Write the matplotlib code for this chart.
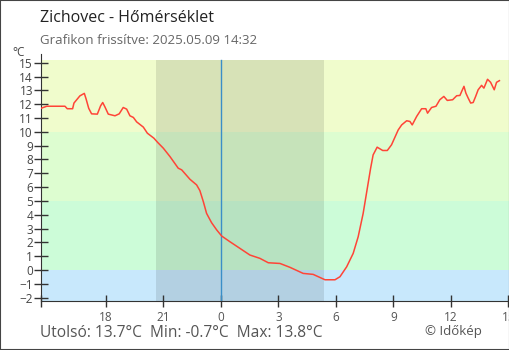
import matplotlib
matplotlib.use("Agg")
import matplotlib.pyplot as plt
from matplotlib.patches import Rectangle

plt.rcParams['font.family'] = ['Open Sans', 'DejaVu Sans']

# hours relative to midnight, temperature in °C
hours = [-9.39, -9.09, -8.14, -8.02, -7.74, -7.67, -7.36, -7.13, -7.04, -6.90,
         -6.75, -6.45, -6.28, -6.17, -6.05, -5.88, -5.53, -5.31, -5.10, -4.92,
         -4.75, -4.57, -4.40, -4.05, -3.84, -3.50, -3.30, -3.01, -2.66, -2.23,
         -2.05, -1.62, -1.27, -1.10, -0.92, -0.75, -0.49, -0.22, 0.04, 0.47,
         0.99, 1.51, 2.03, 2.47, 3.08, 3.60, 4.29, 4.81, 5.16, 5.43,
         5.95, 6.21, 6.56, 6.90, 7.16, 7.42, 7.68, 7.81, 7.94, 8.15,
         8.44, 8.68, 8.90, 9.25, 9.43, 9.69, 9.86, 9.98, 10.21, 10.47,
         10.69, 10.78, 10.99, 11.22, 11.42, 11.63, 11.81, 12.09, 12.30, 12.47,
         12.56, 12.68, 12.78, 12.90, 13.03, 13.16, 13.29, 13.42, 13.60, 13.72,
         13.91, 14.07, 14.26, 14.38, 14.53]
temps = [11.7, 11.85, 11.85, 11.67, 11.67, 12.08, 12.6, 12.78, 12.39, 11.7,
         11.3, 11.28, 11.88, 12.12, 11.79, 11.28, 11.16, 11.3, 11.76, 11.64,
         11.16, 11.04, 10.72, 10.34, 9.9, 9.54, 9.23, 8.82, 8.21, 7.37,
         7.25, 6.57, 6.16, 5.75, 4.95, 4.1, 3.43, 2.9, 2.46, 2.05,
         1.57, 1.09, 0.85, 0.53, 0.48, 0.2, -0.24, -0.31, -0.53, -0.7,
         -0.7, -0.48, 0.24, 1.21, 2.41, 4.1, 6.28, 7.37, 8.33, 8.89,
         8.65, 8.65, 9.06, 10.14, 10.5, 10.8, 10.75, 10.5, 11.11, 11.67,
         11.67, 11.35, 11.76, 11.85, 12.32, 12.56, 12.27, 12.32, 12.61, 12.63,
         12.92, 13.29, 12.8, 12.44, 12.08, 12.12, 12.56, 13.04, 13.36, 13.16,
         13.8, 13.58, 13.04, 13.58, 13.7]

xticks = [-6, -3, 0, 3, 6, 9, 12, 15]
xlabels = ['18', '21', '0', '3', '6', '9', '12', '15']
yticks = list(range(-2, 16))

sunset, sunrise = -3.39, 5.37
t_start, t_end = -9.39, 15.03
y_lo, y_top, y_hi = -2.2, 15.2, 15.6

bands = [(-2.2, 0, '#c8e8fc'), (0, 5, '#ccfcd8'), (5, 10, '#ddfdd0'), (10, 15.2, '#f0fccc')]

fig = plt.figure(figsize=(5.1, 3.5), dpi=100)
ax = fig.add_axes([41 / 510, 0.1414, 468 / 510, 0.7032])

for lo, hi, col in bands:
    ax.fill_between([t_start, t_end], lo, hi, color=col, lw=0, zorder=0)
ax.fill_between([sunset, sunrise], y_lo, y_top, color='black', alpha=0.1, lw=0, zorder=1)
ax.plot([0, 0], [y_lo, y_top], color='#3a8ec8', lw=1, zorder=2)

ax.plot(hours, temps, color='#ff4437', lw=1.1, zorder=3)

ax.set_xlim(t_start, t_end)
ax.set_ylim(y_lo, y_hi)
ax.set_xticks([t_start] + xticks)
ax.set_xticklabels([''] + xlabels)
ax.set_yticks(yticks)
ax.tick_params(axis='x', direction='inout', length=9, width=1, colors='#333',
               labelcolor='#555', labelsize=8.5, pad=3)
ax.tick_params(axis='y', direction='inout', length=9.5, width=1, colors='#333',
               labelcolor='#444', labelsize=8.5, pad=1)
for s in ['top', 'right']:
    ax.spines[s].set_visible(False)
for s in ['left', 'bottom']:
    ax.spines[s].set_color('#333')
ax.patch.set_alpha(0)

fig.text(40 / 510, 1 - 18 / 350, 'Zichovec - Hőmérséklet', fontsize=11.5,
         color='#222', va='center')
fig.text(40 / 510, 1 - 41 / 350, 'Grafikon frissítve: 2025.05.09 14:32', fontsize=9.5,
         color='#666', va='center')
fig.text(12 / 510, 1 - 52 / 350, '°C', fontsize=8.5, color='#444', va='center')
fig.text(40 / 510, 1 - 333 / 350, 'Utolsó: 13.7°C  Min: -0.7°C  Max: 13.8°C',
         fontsize=11.2, color='#555', va='center')
fig.text(425 / 510, 1 - 332 / 350, '© Időkép', fontsize=9.5, color='#555', va='center')

fig.patches.append(Rectangle((0, 0), 1, 1, transform=fig.transFigure, fill=False,
                             edgecolor='#444', lw=1.5))

fig.savefig('out.png', dpi=100)
